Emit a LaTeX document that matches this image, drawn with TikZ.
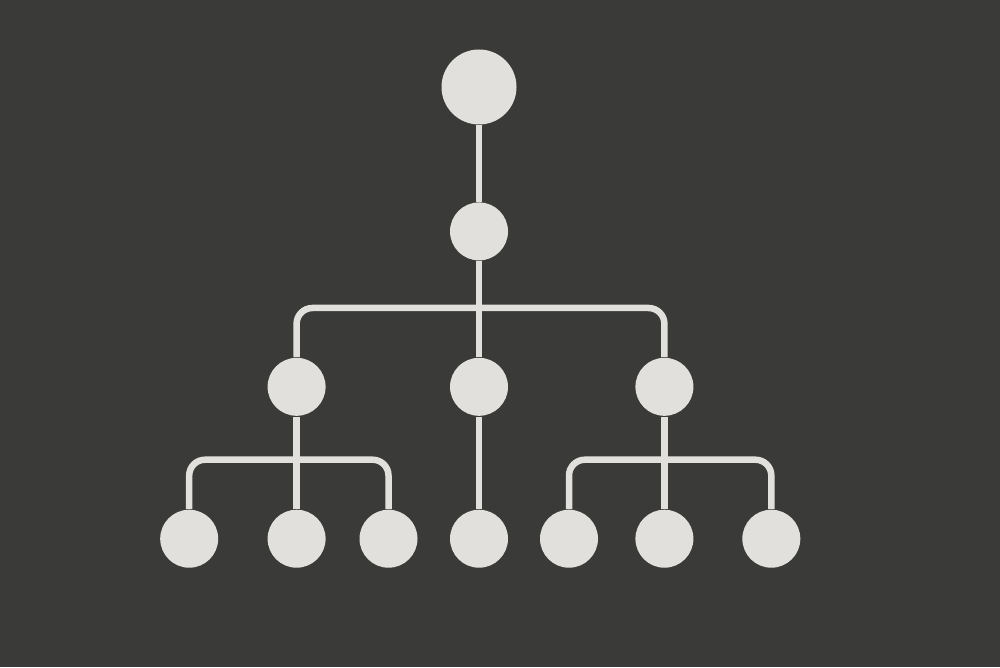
\documentclass[tikz,border=0pt]{standalone}
\usepackage{xcolor}
\usepackage{tikz}
\usetikzlibrary{positioning,calc}

\definecolor{boardgray}{HTML}{3A3A39}
\definecolor{chalk}{HTML}{E1E0DC}

\begin{document}
\begin{tikzpicture}[
    node distance=0.9cm and 1.25cm,
    dot/.style={circle, fill=chalk, inner sep=0pt, minimum size=0.58cm},
    bigdot/.style={dot, minimum size=0.75cm},
    link/.style={draw=chalk, line width=1.85pt, rounded corners=4.5pt},
]

% Dark board
\fill[boardgray] (0,0) rectangle (10,6.67);
\useasboundingbox (0,0) rectangle (10,6.67);

% Top of the tree
\node[bigdot] (root) at (4.79,5.80) {};
\node[dot, below=0.765cm of root] (hub) {};

% Middle level
\node[dot, below=0.96cm of hub] (midC) {};
\node[dot, left=1.23cm of midC] (midL) {};
\node[dot, right=1.26cm of midC] (midR) {};

% Bottom level
\node[dot, below=0.925cm of midC] (botC) {};
\node[dot, below=0.925cm of midL] (botL2) {};
\node[dot, left=0.48cm of botL2] (botL1) {};
\node[dot, right=0.325cm of botL2] (botL3) {};
\node[dot, below=0.925cm of midR] (botR2) {};
\node[dot, left=0.36cm of botR2] (botR1) {};
\node[dot, right=0.475cm of botR2] (botR3) {};

% Bus lines
\coordinate (busTop) at (4.79,3.59);
\coordinate (busLeft) at ($(botL2)+(0,0.79)$);
\coordinate (busRight) at ($(botR2)+(0,0.79)$);

% Connectors
\draw[link] (root) -- (hub);
\draw[link] (hub) -- (midC);
\draw[link] (midL) |- (busTop) -| (midR);
\draw[link] (midC) -- (botC);
\draw[link] (midL) -- (botL2);
\draw[link] (botL1) |- (busLeft) -| (botL3);
\draw[link] (midR) -- (botR2);
\draw[link] (botR1) |- (busRight) -| (botR3);

\end{tikzpicture}
\end{document}
